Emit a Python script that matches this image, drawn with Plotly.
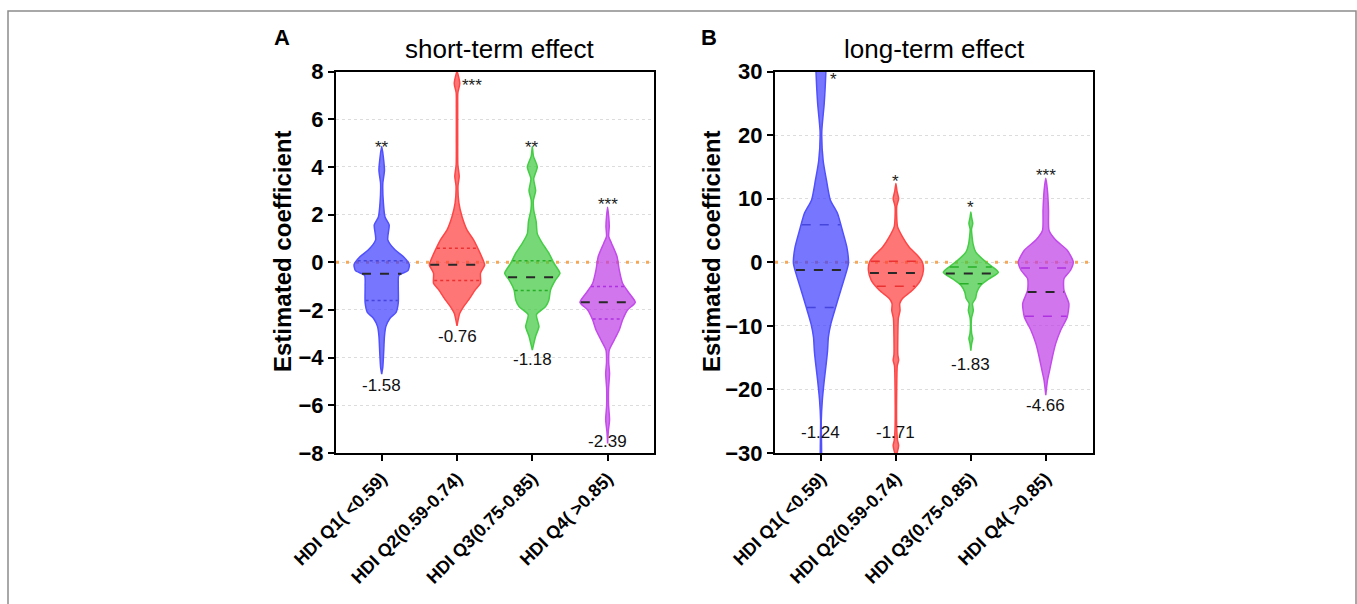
import numpy as np
import plotly.graph_objects as go

# ---------------- data ----------------
categories = ["HDI Q1( <0.59)", "HDI Q2(0.59-0.74)", "HDI Q3(0.75-0.85)", "HDI Q4( >0.85)"]

# violin profiles: y levels (top to bottom) and relative density (max = 1)
a_q1_y = [4.85, 3.87, 3.3, 2.5, 1.9, 1.57, 0.94, 0.52, 0.24, -0.1, -0.35, -0.55, -1.0, -1.7, -2.1, -2.35, -2.7, -3.1, -3.8, -4.4, -4.69]
a_q1_d = [0, .10, .04, .06, .12, .27, .22, .48, .78, 1.0, .95, .62, .6, .6, .52, .3, .15, .1, .07, .04, 0]
a_q2_y = [8.0, 7.5, 7.1, 6.5, 5.0, 4.1, 3.6, 3.2, 2.48, 1.92, 1.36, 0.94, 0.52, 0.1, -0.11, -0.46, -0.88, -1.16, -1.58, -1.86, -2.14, -2.67]
a_q2_d = [0, .10, .03, .025, .025, .03, .08, .035, .07, .18, .36, .6, .78, .94, 1.0, .85, .85, .66, .42, .24, .1, 0]
a_q3_y = [4.85, 4.45, 4.0, 3.5, 3.0, 2.6, 2.2, 1.7, 1.2, 0.8, 0.38, -0.04, -0.46, -0.74, -1.16, -1.58, -1.86, -2.2, -2.7, -3.1, -3.68]
a_q3_d = [0, .04, .18, .05, .12, .04, .05, .14, .18, .36, .6, .78, 1.0, .84, .66, .6, .48, .15, .24, .12, 0]
a_q4_y = [2.31, 1.92, 1.5, 1.08, 0.8, 0.24, -0.32, -0.88, -1.3, -1.68, -2.0, -2.42, -2.84, -3.26, -3.68, -4.2, -4.66, -5.3, -6.0, -6.6, -7.1, -7.6]
a_q4_d = [0, .04, .06, .04, .14, .34, .42, .54, .78, 1.0, .72, .54, .42, .24, .06, .04, .07, .035, .035, .07, .025, 0]

b_q1_y = [33, 30, 25, 20.5, 16, 12.9, 9.8, 7.7, 5.0, 2.4, -0.2, -2.3, -4.4, -7.0, -9.7, -11.8, -13.9, -16, -18.6, -21.7, -24.9, -32]
b_q1_d = [.2, .18, .12, .03, .08, .2, .34, .6, .78, .94, 1.0, .87, .72, .54, .36, .27, .24, .19, .12, .05, .012, .012]
b_q2_y = [12.4, 11.2, 10.0, 8.8, 5.6, 4.0, 2.4, 1.1, 0.05, -1.26, -2.8, -4.4, -5.7, -6.5, -7.6, -8.8, -11.8, -14.5, -15.4, -16.3, -20, -26, -28, -28.8, -29.7, -30.5]
b_q2_d = [0, .04, .1, .03, .06, .24, .48, .78, .96, 1.0, .9, .6, .24, .14, .15, .09, .07, .07, .1, .05, .03, .03, .06, .1, .06, 0]
b_q3_y = [7.9, 7.0, 6.1, 5.2, 2.9, 1.6, 0.3, -0.7, -1.6, -2.6, -3.6, -4.7, -5.7, -6.5, -7.6, -8.8, -11.2, -12.0, -12.8, -13.9]
b_q3_d = [0, .03, .07, .025, .08, .18, .48, .78, 1.0, .66, .36, .22, .17, .06, .09, .025, .03, .07, .03, 0]
b_q4_y = [13.2, 11.3, 8.2, 5.0, 3.5, 1.9, 0.05, -1.26, -2.6, -4.4, -6.5, -8.6, -10.7, -12.8, -14.9, -17, -18.6, -20.9]
b_q4_d = [0, .06, .1, .12, .36, .78, 1.0, .9, .66, .66, .84, .78, .54, .36, .24, .14, .06, 0]

a_median = [-0.48, -0.11, -0.63, -1.68]
a_lowq = [-1.6, -0.77, -1.19, -2.38]
a_highq = [0.06, 0.59, 0.06, -1.02]
b_median = [-1.2, -1.68, -1.78, -4.67]
b_lowq = [-7.1, -3.78, -3.4, -8.5]
b_highq = [5.9, 0.16, -0.73, -0.9]

a_value_text = ["-1.58", "-0.76", "-1.18", "-2.39"]
a_value_y = [-5.15, -3.12, -4.07, -7.52]
b_value_text = ["-1.24", "-1.71", "-1.83", "-4.66"]
b_value_y = [-26.7, -26.7, -16.1, -22.5]

a_sig_text = ["**", "***", "**", "***"]
a_sig_y = [5.0, 7.6, 5.0, 2.6]
a_sig_dx = [0, 0.2, 0, 0]
b_sig_text = ["*", "*", "*", "***"]
b_sig_y = [29.4, 13.3, 9.2, 14.2]
b_sig_dx = [0.17, 0, 0, 0]

a_yticks = [-8, -6, -4, -2, 0, 2, 4, 6, 8]
b_yticks = [-30, -20, -10, 0, 10, 20, 30]

# ---------------- styles ----------------
W, H = 1357, 604
MAXW = 0.367
line_cols = ["rgb(80,80,255)", "rgb(255,70,70)", "rgb(70,205,70)", "rgb(195,75,235)"]
fill_cols = ["rgba(60,60,255,0.7)", "rgba(255,60,60,0.7)", "rgba(60,200,60,0.7)", "rgba(190,60,230,0.7)"]
q_cols = ["rgb(70,70,220)", "rgb(235,50,50)", "rgb(40,175,40)", "rgb(175,50,225)"]
FONT = "Arial, Liberation Sans, sans-serif"

fig = go.Figure()

panels = [
    dict(xa="x", ya="y", prof=[(a_q1_y, a_q1_d), (a_q2_y, a_q2_d), (a_q3_y, a_q3_d), (a_q4_y, a_q4_d)],
         med=a_median, lo=a_lowq, hi=a_highq, qdash="dot", xr=[-0.607, 3.616]),
    dict(xa="x2", ya="y2", prof=[(b_q1_y, b_q1_d), (b_q2_y, b_q2_d), (b_q3_y, b_q3_d), (b_q4_y, b_q4_d)],
         med=b_median, lo=b_lowq, hi=b_highq, qdash="dash", xr=[-0.613, 3.63]),
]

for p in panels:
    # zero reference line
    fig.add_trace(go.Scatter(x=p["xr"], y=[0, 0], mode="lines", xaxis=p["xa"], yaxis=p["ya"],
                             line=dict(color="rgba(245,160,70,0.9)", width=3, dash="3px,7px"),
                             hoverinfo="skip", showlegend=False))
    for i, (yy, dd) in enumerate(p["prof"]):
        yy = np.array(yy, float)
        hw = np.array(dd, float) * MAXW
        xs = np.concatenate([i + hw, (i - hw)[::-1]])
        ys = np.concatenate([yy, yy[::-1]])
        fig.add_trace(go.Scatter(x=xs, y=ys, mode="lines", fill="toself", xaxis=p["xa"], yaxis=p["ya"],
                                 fillcolor=fill_cols[i], line=dict(color=line_cols[i], width=1.5, shape="spline", smoothing=0.6),
                                 hoverinfo="skip", showlegend=False))
        order = np.argsort(yy)
        for val, col, dash, lw in [(p["lo"][i], q_cols[i], p["qdash"], 1.5),
                                   (p["hi"][i], q_cols[i], p["qdash"], 1.5),
                                   (p["med"][i], "rgb(40,40,40)", "dash", 2)]:
            w = np.interp(val, yy[order], hw[order]) * 0.97
            fig.add_trace(go.Scatter(x=[i - w, i + w], y=[val, val], mode="lines", xaxis=p["xa"], yaxis=p["ya"],
                                     line=dict(color=col, width=lw, dash=dash), hoverinfo="skip", showlegend=False))

# annotations: values and significance
for xa, ya, vt, vy, st, sy, sdx in [("x", "y", a_value_text, a_value_y, a_sig_text, a_sig_y, a_sig_dx),
                                    ("x2", "y2", b_value_text, b_value_y, b_sig_text, b_sig_y, b_sig_dx)]:
    for i in range(4):
        fig.add_annotation(x=i, y=vy[i], xref=xa, yref=ya, text=vt[i], showarrow=False,
                           font=dict(family=FONT, size=17, color="#111"))
        fig.add_annotation(x=i + sdx[i], y=sy[i], xref=xa, yref=ya, text=st[i], showarrow=False, yshift=-4,
                           font=dict(family=FONT, size=17, color="#222"))

# titles / panel letters / y titles
for txt, x, y, size, bold, ang in [("short-term effect", 500, 49, 26, False, 0),
                                   ("long-term effect", 934, 49, 26, False, 0),
                                   ("A", 282, 37, 22, True, 0),
                                   ("B", 709, 37, 22, True, 0),
                                   ("Estimated coefficient", 282, 252, 24, True, -90),
                                   ("Estimated coefficient", 711, 252, 24, True, -90)]:
    fig.add_annotation(x=x / W, y=1 - y / H, xref="paper", yref="paper", text=txt, showarrow=False,
                       textangle=ang, xanchor="center", yanchor="middle",
                       font=dict(family=FONT, size=size, color="black", weight="bold" if bold else "normal"))

ydom = [1 - 453 / H, 1 - 71.5 / H]
axis_common = dict(showline=True, linecolor="black", linewidth=2, mirror=True, ticks="outside",
                   ticklen=6, tickwidth=2, tickcolor="black", zeroline=False, automargin=False)
fig.update_layout(
    width=W, height=H, margin=dict(l=0, r=0, t=0, b=0, autoexpand=False),
    paper_bgcolor="white", plot_bgcolor="white", showlegend=False,
    xaxis=dict(domain=[336 / W, 654 / W], range=panels[0]["xr"], tickvals=[0, 1, 2, 3], ticktext=categories,
               tickangle=-45, showgrid=False, anchor="y",
               tickfont=dict(family=FONT, size=18, color="black", weight="bold"), **axis_common),
    yaxis=dict(domain=ydom, range=[-8, 8], tickvals=a_yticks, showgrid=True, gridcolor="#dcdcdc",
               griddash="3px,3px", gridwidth=1, anchor="x",
               tickfont=dict(family=FONT, size=22, color="black", weight="bold"), **axis_common),
    xaxis2=dict(domain=[775 / W, 1093 / W], range=panels[1]["xr"], tickvals=[0, 1, 2, 3], ticktext=categories,
                tickangle=-45, showgrid=False, anchor="y2",
                tickfont=dict(family=FONT, size=18, color="black", weight="bold"), **axis_common),
    yaxis2=dict(domain=ydom, range=[-30, 30], tickvals=b_yticks, showgrid=True, gridcolor="#dcdcdc",
                griddash="3px,3px", gridwidth=1, anchor="x2",
                tickfont=dict(family=FONT, size=22, color="black", weight="bold"), **axis_common),
)

# outer frame of the figure
fig.add_shape(type="rect", xref="paper", yref="paper", x0=8 / W, x1=1356 / W, y0=-0.05, y1=1 - 11 / H,
              line=dict(color="rgb(140,140,140)", width=1.5), layer="below")

fig.write_html("out.html", config={"displayModeBar": False},
               post_script="document.body.style.margin='0px';")
